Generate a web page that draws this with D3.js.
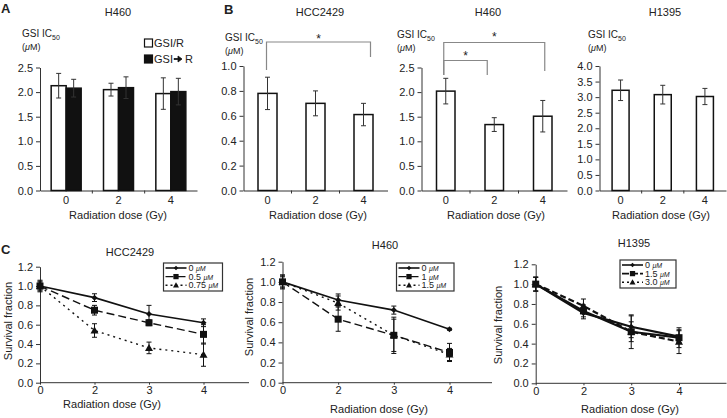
<!DOCTYPE html>
<html><head><meta charset="utf-8">
<script src="https://cdn.jsdelivr.net/npm/d3@7/dist/d3.min.js"></script>
<style>
body{margin:0;background:#fff;}
svg{display:block;font-family:"Liberation Sans",Arial,Helvetica,sans-serif;}
</style></head><body>
<svg id="c" width="727" height="418"></svg>
<script>
// ---------- DATA ----------
const barDoses = ["0", "2", "4"];
const yTicksA = [0, 0.5, 1.0, 1.5, 2.0, 2.5];
const yTicksHCC = [0, 0.2, 0.4, 0.6, 0.8, 1.0];
const yTicksH460 = [0, 0.5, 1.0, 1.5, 2.0, 2.5];
const yTicksH1395 = [0, 0.5, 1.0, 1.5, 2.0, 2.5, 3.0, 3.5, 4.0];

const A_gsiR = [2.13, 2.05, 1.97];
const A_gsiR_err = [0.25, 0.13, 0.32];
const A_gsiThenR = [2.08, 2.09, 2.01];
const A_gsiThenR_err = [0.18, 0.22, 0.27];

const B_hcc = [0.78, 0.70, 0.61];
const B_hcc_err = [0.13, 0.10, 0.09];
const B_h460 = [2.02, 1.34, 1.51];
const B_h460_err = [0.26, 0.14, 0.32];
const B_h1395 = [3.22, 3.08, 3.02];
const B_h1395_err = [0.33, 0.30, 0.26];

const survDoses = ["0", "2", "3", "4"];
const survTicks = [0, 0.2, 0.4, 0.6, 0.8, 1.0, 1.2];

const hccLabels = ["0", "0.5", "0.75"];
const hcc_0 = [1.0, 0.88, 0.71, 0.62];
const hcc_0_err = [0.05, 0.04, 0.09, 0.04];
const hcc_05 = [1.0, 0.75, 0.62, 0.50];
const hcc_05_err = [0.06, 0.05, 0.03, 0.10];
const hcc_075 = [1.0, 0.54, 0.36, 0.29];
const hcc_075_err = [0.04, 0.07, 0.06, 0.12];

const h460Labels = ["0", "1", "1.5"];
const h460_0 = [1.0, 0.82, 0.72, 0.53];
const h460_0_err = [0.07, 0.06, 0.04, 0.01];
const h460_1 = [1.0, 0.63, 0.47, 0.30];
const h460_1_err = [0.06, 0.12, 0.16, 0.09];
const h460_15 = [1.0, 0.79, 0.47, 0.28];
const h460_15_err = [0.05, 0.07, 0.18, 0.06];

const h1395Labels = ["0", "1.5", "3.0"];
const h1395_0 = [1.0, 0.71, 0.57, 0.47];
const h1395_0_err = [0.07, 0.06, 0.11, 0.06];
const h1395_15 = [1.0, 0.73, 0.52, 0.46];
const h1395_15_err = [0.07, 0.06, 0.10, 0.10];
const h1395_30 = [1.0, 0.78, 0.52, 0.42];
const h1395_30_err = [0.07, 0.07, 0.17, 0.12];

// ---------- DRAW ----------
const svg = d3.select("#c");
svg.append("rect").attr("width", 727).attr("height", 418).attr("fill", "#fff");
const FS = 11;

function txt(x, y, s, opt = {}) {
  const t = svg.append("text").attr("x", x).attr("y", y).text(s)
    .attr("font-size", opt.size || FS).attr("fill", "#222")
    .attr("text-anchor", opt.anchor || "middle");
  if (opt.bold) t.attr("font-weight", "bold");
  return t;
}

function gsiLabel(x, y) {
  const t = svg.append("text").attr("x", x).attr("y", y).attr("font-size", 10).attr("fill", "#222");
  t.append("tspan").text("GSI IC");
  t.append("tspan").text("50").attr("font-size", 7).attr("dy", 3);
  const u = svg.append("text").attr("x", x).attr("y", y + 13).attr("font-size", 9).attr("fill", "#222");
  u.append("tspan").text("(");
  u.append("tspan").text("μ").attr("font-style", "italic");
  u.append("tspan").text("M)");
}

function styleAxis(g) {
  g.selectAll("path.domain").attr("stroke", "#333").attr("stroke-width", 1);
  g.selectAll(".tick line").attr("stroke", "#333");
  g.selectAll(".tick text").attr("font-size", FS).attr("fill", "#222")
    .attr("font-family", '"Liberation Sans",Arial,sans-serif');
}

function barPanel(cfg) {
  const xb = d3.scaleBand().domain(barDoses).range([cfg.x0, cfg.x1]);
  const y = d3.scaleLinear().domain([0, d3.max(cfg.ticks)]).range([cfg.yBot, cfg.yTop]);
  const gy = svg.append("g").attr("transform", `translate(${cfg.x0},0)`)
    .call(d3.axisLeft(y).tickValues(cfg.ticks).tickFormat(d3.format(".1f")).tickSize(4).tickSizeOuter(0).tickPadding(3));
  styleAxis(gy);
  const gx = svg.append("g").attr("transform", `translate(0,${cfg.yBot})`)
    .call(d3.axisBottom(xb).tickSize(0).tickSizeOuter(0).tickPadding(6));
  styleAxis(gx);
  barDoses.slice(1).forEach(d => {
    svg.append("line").attr("x1", xb(d)).attr("x2", xb(d)).attr("y1", cfg.yBot).attr("y2", cfg.yBot + 3).attr("stroke", "#333");
  });
  const n = cfg.series.length;
  const bw = cfg.barW;
  cfg.series.forEach((s, si) => {
    barDoses.forEach((d, i) => {
      const c = xb(d) + xb.bandwidth() / 2;
      const left = c - n * bw / 2 + si * bw;
      svg.append("rect").attr("x", left).attr("y", y(s.vals[i])).attr("width", bw)
        .attr("height", y(0) - y(s.vals[i])).attr("fill", s.fill).attr("stroke", "#111").attr("stroke-width", 1.5);
      const ex = left + bw / 2;
      const hi = y(s.vals[i] + s.errs[i]), lo = y(s.vals[i] - s.errs[i]);
      svg.append("line").attr("x1", ex).attr("x2", ex).attr("y1", hi).attr("y2", lo).attr("stroke", "#333").attr("stroke-width", 1);
      [hi, lo].forEach(yy => svg.append("line").attr("x1", ex - 2.5).attr("x2", ex + 2.5).attr("y1", yy).attr("y2", yy).attr("stroke", "#333"));
    });
  });
  txt(cfg.titleX, 16, cfg.title);
  gsiLabel(cfg.labX, cfg.labY);
  txt(cfg.xlabX, 219, "Radiation dose (Gy)");
  return { xb, y };
}

// Panel A
barPanel({ x0: 40, x1: 197, yTop: 67.5, yBot: 190.5, ticks: yTicksA, barW: 15,
  series: [{ vals: A_gsiR, errs: A_gsiR_err, fill: "#fff" }, { vals: A_gsiThenR, errs: A_gsiThenR_err, fill: "#111" }],
  title: "H460", titleX: 118, labX: 22, labY: 37, xlabX: 118 });
// Legend A
svg.append("rect").attr("x", 144.5).attr("y", 39).attr("width", 8).attr("height", 8).attr("fill", "#fff").attr("stroke", "#111").attr("stroke-width", 1.2);
txt(154, 46.5, "GSI/R", { anchor: "start" });
svg.append("rect").attr("x", 144.5).attr("y", 55).attr("width", 8).attr("height", 8).attr("fill", "#111").attr("stroke", "#111").attr("stroke-width", 1.2);
txt(154, 62.5, "GSI", { anchor: "start" });
svg.append("path").attr("d", "M174,58.5 L178,58.5 L178,56 L182,59 L178,62 L178,59.5 L174,59.5 Z").attr("fill", "#111").attr("stroke", "#111").attr("stroke-width", 0.8);
txt(185, 62.5, "R", { anchor: "start" });

// Panel B
const pB1 = barPanel({ x0: 243.5, x1: 387.5, yTop: 66, yBot: 190.5, ticks: yTicksHCC, barW: 19,
  series: [{ vals: B_hcc, errs: B_hcc_err, fill: "#fff" }],
  title: "HCC2429", titleX: 320, labX: 225, labY: 41, xlabX: 318 });
const pB2 = barPanel({ x0: 421.5, x1: 567, yTop: 67.5, yBot: 190.5, ticks: yTicksH460, barW: 18.5,
  series: [{ vals: B_h460, errs: B_h460_err, fill: "#fff" }],
  title: "H460", titleX: 488, labX: 397, labY: 38, xlabX: 496 });
barPanel({ x0: 599.5, x1: 726, yTop: 66, yBot: 190.5, ticks: yTicksH1395, barW: 17,
  series: [{ vals: B_h1395, errs: B_h1395_err, fill: "#fff" }],
  title: "H1395", titleX: 665, labX: 588, labY: 38, xlabX: 661 });

// significance brackets
function bracket(xl, xr, yTop, yl, yr) {
  svg.append("path").attr("d", `M${xl},${yl} L${xl},${yTop} L${xr},${yTop} L${xr},${yr}`)
    .attr("fill", "none").attr("stroke", "#888").attr("stroke-width", 1.2);
}
{
  const c0 = pB1.xb("0") + pB1.xb.bandwidth() / 2, c4 = pB1.xb("4") + pB1.xb.bandwidth() / 2;
  bracket(c0 - 1, c4 + 7, 42, 70, 57);
  txt((c0 + c4) / 2 + 3, 43, "*", { size: 12 });
  const d0 = pB2.xb("0") + pB2.xb.bandwidth() / 2, d2 = pB2.xb("2") + pB2.xb.bandwidth() / 2, d4 = pB2.xb("4") + pB2.xb.bandwidth() / 2;
  bracket(d0 - 2, d4 + 2, 42.5, 75, 71);
  bracket(d0 - 2, d2 - 7, 60.5, 75, 75);
  txt((d0 + d4) / 2, 41, "*", { size: 12 });
  txt((d0 + d2 - 7) / 2 - 1, 59.5, "*", { size: 12 });
}

// Panel letters
txt(1, 13, "A", { anchor: "start", bold: true, size: 13 });
txt(224, 13.5, "B", { anchor: "start", bold: true, size: 13 });
txt(1, 254, "C", { anchor: "start", bold: true, size: 13 });

// ---------- line panels ----------
function marker(g, type, x, y, k = 1) {
  if (type === "diamond") {
    g.append("path").attr("d", `M${x},${y - 3 * k} L${x + 3 * k},${y} L${x},${y + 3 * k} L${x - 3 * k},${y} Z`).attr("fill", "#111");
  } else if (type === "square") {
    g.append("rect").attr("x", x - 3.5 * k).attr("y", y - 3.5 * k).attr("width", 7 * k).attr("height", 7 * k).attr("fill", "#111");
  } else {
    g.append("path").attr("d", `M${x},${y - 4 * k} L${x + 4 * k},${y + 3 * k} L${x - 4 * k},${y + 3 * k} Z`).attr("fill", "#111");
  }
}

function linePanel(cfg) {
  const x = d3.scalePoint().domain(survDoses).range([cfg.xa, cfg.xd]);
  const y = d3.scaleLinear().domain([0, 1.2]).range([cfg.yBot, cfg.yTop]);
  const gy = svg.append("g").attr("transform", `translate(${cfg.xa},0)`)
    .call(d3.axisLeft(y).tickValues(survTicks).tickFormat(d3.format(".1f")).tickSize(4).tickSizeOuter(0).tickPadding(3));
  styleAxis(gy);
  const gx = svg.append("g").attr("transform", `translate(0,${cfg.yBot})`)
    .call(d3.axisBottom(x).tickSize(2).tickSizeOuter(0).tickPadding(2));
  styleAxis(gx);
  gx.select("path.domain").remove();
  svg.append("line").attr("x1", cfg.xa).attr("x2", cfg.xEnd).attr("y1", cfg.yBot).attr("y2", cfg.yBot).attr("stroke", "#333");
  const g = svg.append("g");
  const line = d3.line().x((d, i) => x(survDoses[i])).y(d => y(d));
  cfg.series.forEach(s => {
    g.append("path").datum(s.vals).attr("d", line).attr("fill", "none").attr("stroke", "#111")
      .attr("stroke-width", s.w).attr("stroke-dasharray", s.dash || null);
  });
  cfg.series.forEach(s => {
    s.vals.forEach((v, i) => {
      const xx = x(survDoses[i]);
      const hi = y(v + s.errs[i]), lo = y(v - s.errs[i]);
      g.append("line").attr("x1", xx).attr("x2", xx).attr("y1", hi).attr("y2", lo).attr("stroke", "#111").attr("stroke-width", 1);
      [hi, lo].forEach(yy => g.append("line").attr("x1", xx - 2.5).attr("x2", xx + 2.5).attr("y1", yy).attr("y2", yy).attr("stroke", "#111"));
      marker(g, s.marker, xx, y(v));
    });
  });
  // legend
  const L = cfg.legend;
  svg.append("rect").attr("x", L.x).attr("y", L.y).attr("width", L.w).attr("height", 28)
    .attr("fill", "#fff").attr("stroke", "#333").attr("stroke-width", 1.2);
  cfg.series.forEach((s, i) => {
    const ry = L.y + 5 + i * 8.6;
    svg.append("line").attr("x1", L.x + 2).attr("x2", L.x + 23).attr("y1", ry).attr("y2", ry)
      .attr("stroke", "#111").attr("stroke-width", Math.min(s.w, 1.6)).attr("stroke-dasharray", s.legDash || null);
    marker(svg, s.marker, L.x + 12.5, ry, 0.75);
    const t = svg.append("text").attr("x", L.x + 25).attr("y", ry + 3).attr("font-size", 9).attr("fill", "#222");
    t.append("tspan").text(s.label + " ");
    t.append("tspan").text("μM").attr("font-style", "italic").attr("font-size", 7);
  });
  txt(cfg.titleX, cfg.titleY, cfg.title);
  txt(cfg.xlabX, cfg.xlabY, "Radiation dose (Gy)");
  svg.append("text").attr("transform", `translate(${cfg.ylabX},${cfg.ylabY}) rotate(-90)`)
    .attr("text-anchor", "middle").attr("font-size", FS).attr("fill", "#222").text("Survival fraction");
}

linePanel({ xa: 40, xd: 203.5, xEnd: 249, yTop: 266.7, yBot: 382.7,
  series: [
    { vals: hcc_0, errs: hcc_0_err, marker: "diamond", w: 1.6, label: hccLabels[0] },
    { vals: hcc_05, errs: hcc_05_err, marker: "square", w: 1.4, dash: "8,4", legDash: "8,4", label: hccLabels[1] },
    { vals: hcc_075, errs: hcc_075_err, marker: "triangle", w: 1.4, dash: "2,4", legDash: "2,3", label: hccLabels[2] }],
  legend: { x: 163.5, y: 263, w: 59 },
  title: "HCC2429", titleX: 130, titleY: 256, xlabX: 112, xlabY: 408, ylabX: 12, ylabY: 321 });

linePanel({ xa: 282.5, xd: 449.5, xEnd: 492, yTop: 261.7, yBot: 382.7,
  series: [
    { vals: h460_0, errs: h460_0_err, marker: "diamond", w: 1.6, label: h460Labels[0] },
    { vals: h460_1, errs: h460_1_err, marker: "square", w: 1.4, dash: "8,4", legDash: "8,4", label: h460Labels[1] },
    { vals: h460_15, errs: h460_15_err, marker: "triangle", w: 1.4, dash: "2,4", legDash: "2,3", label: h460Labels[2] }],
  legend: { x: 396.5, y: 263, w: 57.5 },
  title: "H460", titleX: 385, titleY: 249, xlabX: 379, xlabY: 413, ylabX: 253, ylabY: 317 });

linePanel({ xa: 535.7, xd: 679, xEnd: 726.5, yTop: 264.3, yBot: 383.3,
  series: [
    { vals: h1395_0, errs: h1395_0_err, marker: "diamond", w: 2.2, label: h1395Labels[0] },
    { vals: h1395_15, errs: h1395_15_err, marker: "square", w: 2.2, legDash: "7,2", label: h1395Labels[1] },
    { vals: h1395_30, errs: h1395_30_err, marker: "triangle", w: 2.2, dash: "6,3", legDash: "2,3", label: h1395Labels[2] }],
  legend: { x: 620, y: 260, w: 56 },
  title: "H1395", titleX: 634, titleY: 247, xlabX: 630, xlabY: 413, ylabX: 502, ylabY: 325 });
</script>
</body></html>
